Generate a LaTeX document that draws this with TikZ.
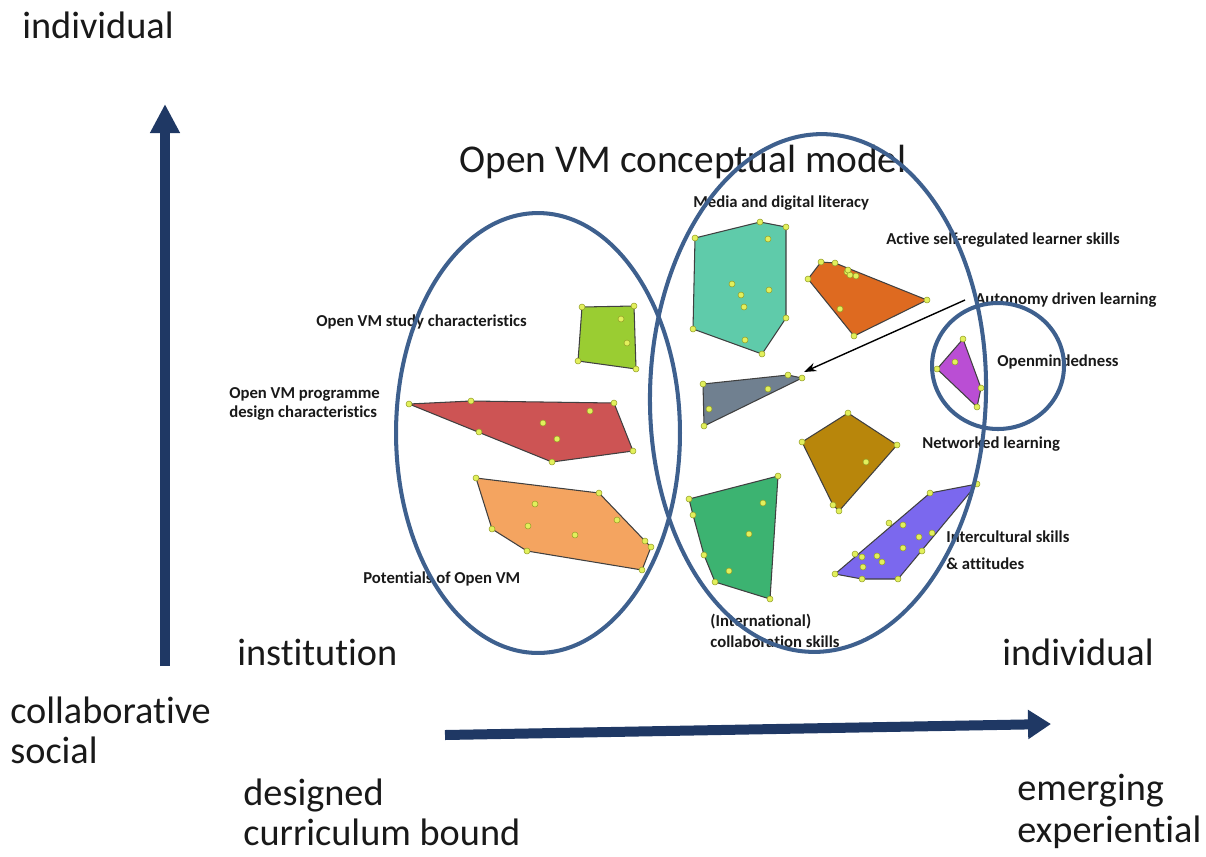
\documentclass[tikz,border=0pt]{standalone}
\usepackage{fontspec}
\setmainfont{Carlito}[Ligatures=NoCommon]
\usetikzlibrary{arrows.meta}

\definecolor{ringblue}{RGB}{62,96,142}
\definecolor{axisnavy}{RGB}{31,56,100}
\definecolor{dotfill}{RGB}{226,240,92}
\definecolor{dotline}{RGB}{150,160,40}
\definecolor{cTeal}{RGB}{95,203,170}
\definecolor{cOrange}{RGB}{222,106,32}
\definecolor{cSlate}{RGB}{112,128,144}
\definecolor{cLime}{RGB}{154,205,50}
\definecolor{cRed}{RGB}{205,84,84}
\definecolor{cPeach}{RGB}{244,164,96}
\definecolor{cPurple}{RGB}{186,78,212}
\definecolor{cGold}{RGB}{184,134,11}
\definecolor{cGreen}{RGB}{60,179,113}
\definecolor{cViolet}{RGB}{123,104,238}

\tikzset{
  bigtxt/.style={font=\fontsize{21.8}{22.7}\selectfont, anchor=west, inner sep=0, align=left, text=black!90},
  lbl/.style={font=\bfseries\fontsize{9.5}{11.5}\selectfont, anchor=west, inner sep=0, align=left, text=black!90},
  region/.style={draw=black!75, line width=0.6pt, line join=round},
  dot/.style={fill=dotfill, draw=dotline, line width=0.3pt},
  ring/.style={draw=ringblue, line width=2.3pt},
  axis/.style={draw=axisnavy, line width=0.2cm},
}

\begin{document}
\begin{tikzpicture}[x=0.02cm, y=-0.02cm]
\useasboundingbox (0,0) rectangle (1206,856);

% ---- clusters ----
% Media and digital literacy
\filldraw[region, fill=cTeal] (695,238) -- (760,222) -- (786,227) -- (786,318) -- (762,354) -- (693,329) -- cycle;
\foreach \p in {(695,238),(760,222),(786,227),(786,318),(762,354),(693,329),
  (768,239),(732,284),(741,295),(744,307),(769,290),(745,340)}
  \filldraw[dot] \p circle[radius=1.7pt];

% Active self-regulated learner skills
\filldraw[region, fill=cOrange] (821,262) -- (835,263) -- (927,300) -- (854,336) -- (808,279) -- cycle;
\foreach \p in {(821,262),(835,263),(927,300),(854,336),(808,279),
  (847,272),(850,275),(856,276),(848,270),(840,309)}
  \filldraw[dot] \p circle[radius=1.7pt];

% Autonomy driven learning
\filldraw[region, fill=cSlate] (703,384) -- (788,375) -- (802,378) -- (704,426) -- cycle;
\foreach \p in {(703,384),(788,375),(802,378),(704,426),(768,389),(709,409)}
  \filldraw[dot] \p circle[radius=1.7pt];

% Open VM study characteristics
\filldraw[region, fill=cLime] (582,307) -- (634,306) -- (636,369) -- (578,361) -- cycle;
\foreach \p in {(582,307),(634,306),(636,369),(578,361),(621,319),(627,343)}
  \filldraw[dot] \p circle[radius=1.7pt];

% Open VM programme design characteristics
\filldraw[region, fill=cRed] (409,404) -- (471,401) -- (614,403) -- (633,451) -- (552,462) -- cycle;
\foreach \p in {(409,404),(471,401),(614,403),(633,451),(552,462),(479,432),
  (590,411),(543,423),(557,439)}
  \filldraw[dot] \p circle[radius=1.7pt];

% Potentials of Open VM
\filldraw[region, fill=cPeach] (476,478) -- (599,493) -- (645,541) -- (651,547) -- (642,570) -- (527,551) -- (492,529) -- cycle;
\foreach \p in {(476,478),(599,493),(645,541),(651,547),(642,570),(527,551),(492,529),
  (535,504),(528,526),(575,535),(617,520)}
  \filldraw[dot] \p circle[radius=1.7pt];

% Openmindedness
\filldraw[region, fill=cPurple] (963,339) -- (981,388) -- (977,407) -- (937,369) -- cycle;
\foreach \p in {(963,339),(981,388),(977,407),(937,369),(955,362)}
  \filldraw[dot] \p circle[radius=1.7pt];

% Networked learning
\filldraw[region, fill=cGold] (802,442) -- (848,413) -- (897,445) -- (839,511) -- (833,505) -- cycle;
\foreach \p in {(802,442),(848,413),(897,445),(839,511),(833,505),(866,462)}
  \filldraw[dot] \p circle[radius=1.7pt];

% (International) collaboration skills
\filldraw[region, fill=cGreen] (689,499) -- (778,476) -- (770,599) -- (715,582) -- (704,555) -- (693,515) -- cycle;
\foreach \p in {(689,499),(778,476),(770,599),(715,582),(704,555),(693,515),
  (763,503),(749,534),(729,571)}
  \filldraw[dot] \p circle[radius=1.7pt];

% Intercultural skills & attitudes
\filldraw[region, fill=cViolet] (835,574) -- (930,493) -- (977,484) -- (898,579) -- (862,579) -- cycle;
\foreach \p in {(835,574),(930,493),(977,484),(898,579),(862,579),
  (889,523),(903,525),(919,537),(932,533),(903,548),(922,551),
  (855,554),(862,557),(877,556),(882,562),(863,567)}
  \filldraw[dot] \p circle[radius=1.7pt];

% ---- labels ----
\node[bigtxt, font=\fontsize{22.4}{24}\selectfont] (title) at (459,162) {Open VM conceptual model};
\node[lbl] (media) at (693,203) {Media and digital literacy};
\node[lbl] (active) at (886,240) {Active self-regulated learner skills};
\node[lbl] (autonomy) at (975,300) {Autonomy driven learning};
\node[lbl] (openmind) at (997,362) {Openmindedness};
\node[lbl] (network) at (922,444) {Networked learning};
\node[lbl, font=\bfseries\fontsize{9.5}{15.3}\selectfont] (intercult) at (946,550.5) {Intercultural skills\\\& attitudes};
\node[lbl, font=\bfseries\fontsize{9.5}{12}\selectfont] (collab) at (710,630.5) {(International)\\collaboration skills};
\node[lbl] (potentials) at (363,579) {Potentials of Open VM};
\node[lbl, font=\bfseries\fontsize{9.5}{10.8}\selectfont] (programme) at (229,403.5) {Open VM programme\\design characteristics};
\node[lbl] (study) at (316,322) {Open VM study characteristics};

\node[bigtxt] (indivtop) at (22,25) {individual};
\node[bigtxt] (institution) at (237,652) {institution};
\node[bigtxt] (indivright) at (1002,652) {individual};
\node[bigtxt] (collabsocial) at (10,730) {collaborative\\social};
\node[bigtxt] (designed) at (243,812) {designed\\curriculum bound};
\node[bigtxt, font=\fontsize{21.8}{23.8}\selectfont] (emerging) at (1017,811) {emerging\\experiential};

% ---- axes ----
\coordinate (vstart) at (165,666);
\coordinate (vend) at (165,104);
\coordinate (hstart) at (445,735);
\coordinate (hend) at (1051,724);
\draw[axis, -{Triangle[width=0.56cm,length=0.58cm]}] (vstart) -- (vend);
\draw[axis, -{Triangle[width=0.56cm,length=0.46cm]}] (hstart) -- (hend);

% pointer from the autonomy label to its cluster
\coordinate (autotip) at (804,372);
\draw[black, line width=0.8pt, -{Stealth[length=7pt,width=5pt]}] ([xshift=-0.2cm]autonomy.west) -- (autotip);

% ---- grouping rings ----
\draw[ring] (538,433) ellipse[x radius=2.84cm, y radius=4.4cm];
\draw[ring, rotate around={-1.5:(818,393)}] (818,393) ellipse[x radius=3.36cm, y radius=5.18cm];
\draw[ring] (998,366) ellipse[x radius=1.32cm, y radius=1.26cm];
\end{tikzpicture}
\end{document}
